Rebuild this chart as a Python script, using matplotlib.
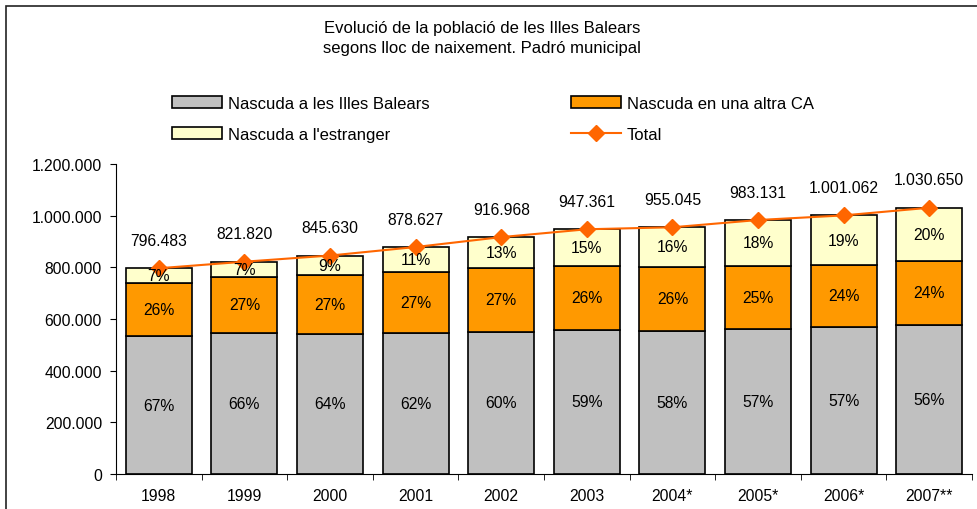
import numpy as np
import matplotlib
matplotlib.use('Agg')
import matplotlib.pyplot as plt
from matplotlib.patches import Patch, Rectangle
from matplotlib.lines import Line2D

plt.rcParams['font.family'] = ['Liberation Sans', 'DejaVu Sans']

years = ['1998', '1999', '2000', '2001', '2002', '2003', '2004*', '2005*', '2006*', '2007**']
total = [796483, 821820, 845630, 878627, 916968, 947361, 955045, 983131, 1001062, 1030650]
balears = [533700, 545000, 542000, 545000, 550000, 559000, 554000, 560500, 570500, 577000]
altra_ca = [207000, 219000, 228000, 237000, 247500, 246000, 248500, 245500, 240000, 247500]
estranger = [55783, 57820, 75630, 96627, 119468, 142361, 152545, 177131, 190562, 206150]

c_bal = '#C0C0C0'
c_ca = '#FF9900'
c_est = '#FFFFCC'
c_tot = '#FF6600'

fig = plt.figure(figsize=(9.78, 5.10), dpi=100)
ax = fig.add_axes([116/978, 1-475/510, 856/978, 310/510])

x = np.arange(len(years))
bal = np.array(balears)
ca = np.array(altra_ca)
est = np.array(estranger)
tot = np.array(total)
w = 0.77
ax.bar(x, bal, w, color=c_bal, edgecolor='black', linewidth=1.2, zorder=2)
ax.bar(x, ca, w, bottom=bal, color=c_ca, edgecolor='black', linewidth=1.2, zorder=2)
ax.bar(x, est, w, bottom=bal+ca, color=c_est, edgecolor='black', linewidth=1.2, zorder=2)
ax.plot(x, tot, color=c_tot, lw=1.5, marker='D', markersize=8, zorder=4)

fs = 11.3
s = bal + ca + est
for i in range(len(x)):
    ax.text(x[i], bal[i]/2, '%d%%' % round(bal[i]*100.0/s[i]), ha='center', va='center', fontsize=fs, zorder=5)
    ax.text(x[i], bal[i] + ca[i]/2, '%d%%' % round(ca[i]*100.0/s[i]), ha='center', va='center', fontsize=fs, zorder=5)
    ax.text(x[i], bal[i] + ca[i] + est[i]/2, '%d%%' % round(est[i]*100.0/s[i]), ha='center', va='center', fontsize=fs, zorder=5)
    lab = '{:,}'.format(total[i]).replace(',', '.')
    ax.annotate(lab, (x[i], tot[i]), xytext=(0, 20), textcoords='offset points',
                ha='center', va='center', fontsize=fs)

ax.set_xlim(-0.5, len(years)-0.5)
ax.set_ylim(0, 1200000)
ax.set_yticks(np.arange(0, 1200001, 200000))
ax.set_yticklabels(['{:,}'.format(v).replace(',', '.') for v in range(0, 1200001, 200000)], fontsize=fs)
ax.set_xticks(x)
ax.set_xticklabels(years, fontsize=fs)
ax.set_xticks(np.arange(-0.5, len(years)), minor=True)
ax.tick_params(axis='x', which='major', length=0, pad=10)
ax.tick_params(axis='x', which='minor', length=4, direction='out')
ax.tick_params(axis='y', length=4, direction='out', pad=6)
for sp in ['top', 'right']:
    ax.spines[sp].set_visible(False)

fig.text(482/978, 1-28/510, 'Evolució de la població de les Illes Balears', ha='center', va='center', fontsize=12)
fig.text(482/978, 1-49/510, 'segons lloc de naixement. Padró municipal', ha='center', va='center', fontsize=12)

handles = [Patch(facecolor=c_bal, edgecolor='black', linewidth=1.2),
           Patch(facecolor=c_est, edgecolor='black', linewidth=1.2),
           Patch(facecolor=c_ca, edgecolor='black', linewidth=1.2),
           Line2D([], [], color=c_tot, lw=1.5, marker='D', markersize=8)]
labels = ['Nascuda a les Illes Balears', "Nascuda a l'estranger", 'Nascuda en una altra CA', 'Total']
fig.legend(handles, labels, ncol=2, loc='upper left', bbox_to_anchor=(172/978, 1-97/510),
           frameon=False, fontsize=12, handlelength=3.0, handleheight=0.7, handletextpad=0.35,
           columnspacing=8.5, labelspacing=0.95, borderaxespad=0, borderpad=0)

fig.patches.append(Rectangle((6/978, -0.1), 1.2, 1.1-7/510, transform=fig.transFigure,
                             fill=False, edgecolor='#222222', linewidth=1.2))

fig.savefig('out.png', dpi=100)
